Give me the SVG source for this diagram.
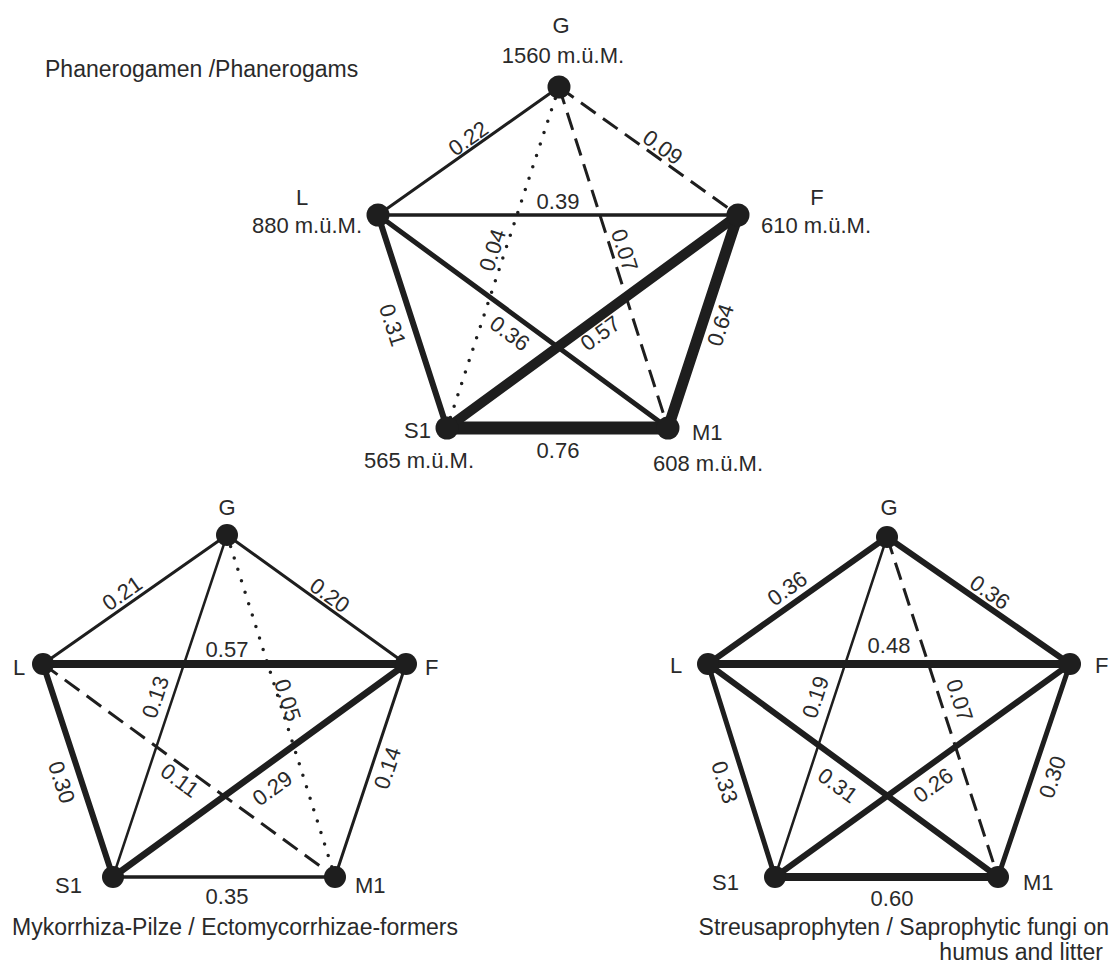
<svg xmlns="http://www.w3.org/2000/svg" width="1113" height="967" viewBox="0 0 1113 967">
<style>
text{font-family:"Liberation Sans",Arial,Helvetica,sans-serif;fill:#2a2a2a;font-size:22px}
.cap{font-size:23px}
.num{text-anchor:middle}
.mid{text-anchor:middle}
.end{text-anchor:end}
line{stroke:#1e1e1e;stroke-linecap:round;fill:none}
.dash{stroke-width:3;stroke-dasharray:18 9;stroke-linecap:butt}
.dot{stroke-width:3.5;stroke-dasharray:0 12;stroke-linecap:round}
circle{fill:#1e1e1e}
</style>
<rect width="1113" height="967" fill="#fff"/>
<text id="title1" class="cap" x="45" y="77">Phanerogamen /Phanerogams</text>

<!-- Top graph -->
<g id="edges-top">
<line x1="559" y1="87" x2="378" y2="215" stroke-width="3"/>
<line class="dash" x1="559" y1="87" x2="738" y2="215"/>
<line class="dot" x1="559" y1="87" x2="447" y2="428"/>
<line class="dash" x1="559" y1="87" x2="668" y2="428"/>
<line x1="378" y1="215" x2="738" y2="215" stroke-width="3.5"/>
<line x1="378" y1="215" x2="447" y2="428" stroke-width="6"/>
<line x1="378" y1="215" x2="668" y2="428" stroke-width="5"/>
<line x1="738" y1="215" x2="447" y2="428" stroke-width="10"/>
<line x1="738" y1="215" x2="668" y2="428" stroke-width="11"/>
<line x1="447" y1="428" x2="668" y2="428" stroke-width="13"/>
<g class="labels">
<text class="num" transform="translate(468,138) rotate(-35.3)" y="8">0.22</text>
<text class="num" transform="translate(663,147) rotate(35.6)" y="8">0.09</text>
<text class="num" transform="translate(558,201)" y="8">0.39</text>
<text class="num" transform="translate(492,250) rotate(-71.8)" y="8">0.04</text>
<text class="num" transform="translate(625,250) rotate(72.3)" y="8">0.07</text>
<text class="num" transform="translate(393,325) rotate(72)" y="8">0.31</text>
<text class="num" transform="translate(510,333) rotate(36.3)" y="8">0.36</text>
<text class="num" transform="translate(600,333) rotate(-36.2)" y="8">0.57</text>
<text class="num" transform="translate(720,325) rotate(-71.8)" y="8">0.64</text>
<text class="num" transform="translate(558,450)" y="8">0.76</text>
</g>
</g>
<g id="top-G"><circle cx="559" cy="87" r="11.5"/><text class="mid" x="561" y="33">G</text><text class="mid" x="563" y="63">1560 m.ü.M.</text></g>
<g id="top-L"><circle cx="378" cy="215" r="11.5"/><text class="mid" x="302" y="205">L</text><text class="end" x="362" y="233">880 m.ü.M.</text></g>
<g id="top-F"><circle cx="738" cy="215" r="11.5"/><text class="mid" x="817" y="205">F</text><text class="mid" x="816" y="233">610 m.ü.M.</text></g>
<g id="top-S1"><circle cx="447" cy="428" r="11.5"/><text class="end" x="431" y="438">S1</text><text class="mid" x="419" y="468">565 m.ü.M.</text></g>
<g id="top-M1"><circle cx="668" cy="428" r="11.5"/><text x="692" y="440">M1</text><text class="mid" x="708" y="471">608 m.ü.M.</text></g>

<!-- Bottom-left graph -->
<g id="edges-bl">
<line x1="227" y1="535" x2="43" y2="664" stroke-width="3"/>
<line x1="227" y1="535" x2="406" y2="664" stroke-width="3"/>
<line x1="227" y1="535" x2="113" y2="877" stroke-width="2.5"/>
<line class="dot" x1="227" y1="535" x2="335" y2="877"/>
<line x1="43" y1="664" x2="406" y2="664" stroke-width="8"/>
<line x1="43" y1="664" x2="113" y2="877" stroke-width="6"/>
<line class="dash" x1="43" y1="664" x2="335" y2="877"/>
<line x1="406" y1="664" x2="113" y2="877" stroke-width="6.5"/>
<line x1="406" y1="664" x2="335" y2="877" stroke-width="3"/>
<line x1="113" y1="877" x2="335" y2="877" stroke-width="3.5"/>
<g class="labels">
<text class="num" transform="translate(122,593) rotate(-35)" y="8">0.21</text>
<text class="num" transform="translate(330,595) rotate(35.8)" y="8">0.20</text>
<text class="num" transform="translate(227,649)" y="8">0.57</text>
<text class="num" transform="translate(155,697) rotate(-71.6)" y="8">0.13</text>
<text class="num" transform="translate(288,700) rotate(72.5)" y="8">0.05</text>
<text class="num" transform="translate(62,782) rotate(71.8)" y="8">0.30</text>
<text class="num" transform="translate(180,780) rotate(36.1)" y="8">0.11</text>
<text class="num" transform="translate(272,788) rotate(-36)" y="8">0.29</text>
<text class="num" transform="translate(387,768) rotate(-71.6)" y="8">0.14</text>
<text class="num" transform="translate(227,896)" y="8">0.35</text>
</g>
</g>
<g id="bl-G"><circle cx="227" cy="535" r="11"/><text class="mid" x="227" y="515">G</text></g>
<g id="bl-L"><circle cx="43" cy="664" r="11"/><text x="13" y="675">L</text></g>
<g id="bl-F"><circle cx="406" cy="664" r="11"/><text x="425" y="675">F</text></g>
<g id="bl-S1"><circle cx="113" cy="877" r="11"/><text x="55" y="893">S1</text></g>
<g id="bl-M1"><circle cx="335" cy="877" r="11"/><text x="355" y="893">M1</text></g>
<text id="title2" class="cap" x="12" y="935">Mykorrhiza-Pilze / Ectomycorrhizae-formers</text>

<!-- Bottom-right graph -->
<g id="edges-br">
<line x1="887" y1="537" x2="708" y2="664" stroke-width="6"/>
<line x1="887" y1="537" x2="1070" y2="664" stroke-width="6"/>
<line x1="887" y1="537" x2="775" y2="877" stroke-width="2.5"/>
<line class="dash" x1="887" y1="537" x2="998" y2="877"/>
<line x1="708" y1="664" x2="1070" y2="664" stroke-width="8"/>
<line x1="708" y1="664" x2="775" y2="877" stroke-width="5"/>
<line x1="708" y1="664" x2="998" y2="877" stroke-width="6"/>
<line x1="1070" y1="664" x2="775" y2="877" stroke-width="6"/>
<line x1="1070" y1="664" x2="998" y2="877" stroke-width="5"/>
<line x1="775" y1="877" x2="998" y2="877" stroke-width="8"/>
<g class="labels">
<text class="num" transform="translate(787,588) rotate(-35.4)" y="8">0.36</text>
<text class="num" transform="translate(990,592) rotate(35.1)" y="8">0.36</text>
<text class="num" transform="translate(889,645)" y="8">0.48</text>
<text class="num" transform="translate(815,697) rotate(-71.8)" y="8">0.19</text>
<text class="num" transform="translate(960,700) rotate(71.9)" y="8">0.07</text>
<text class="num" transform="translate(725,782) rotate(72.5)" y="8">0.33</text>
<text class="num" transform="translate(838,785) rotate(36.3)" y="8">0.31</text>
<text class="num" transform="translate(933,785) rotate(-35.8)" y="8">0.26</text>
<text class="num" transform="translate(1052,777) rotate(-71.3)" y="8">0.30</text>
<text class="num" transform="translate(892,898)" y="8">0.60</text>
</g>
</g>
<g id="br-G"><circle cx="887" cy="537" r="11"/><text class="mid" x="889" y="515">G</text></g>
<g id="br-L"><circle cx="708" cy="664" r="11"/><text x="670" y="673">L</text></g>
<g id="br-F"><circle cx="1070" cy="664" r="11"/><text x="1095" y="673">F</text></g>
<g id="br-S1"><circle cx="775" cy="877" r="11"/><text x="712" y="890">S1</text></g>
<g id="br-M1"><circle cx="998" cy="877" r="11"/><text x="1023" y="890">M1</text></g>
<text id="title3a" class="cap end" x="1109" y="935">Streusaprophyten / Saprophytic fungi on</text>
<text id="title3b" class="cap end" x="1103" y="960">humus and litter</text>
</svg>
